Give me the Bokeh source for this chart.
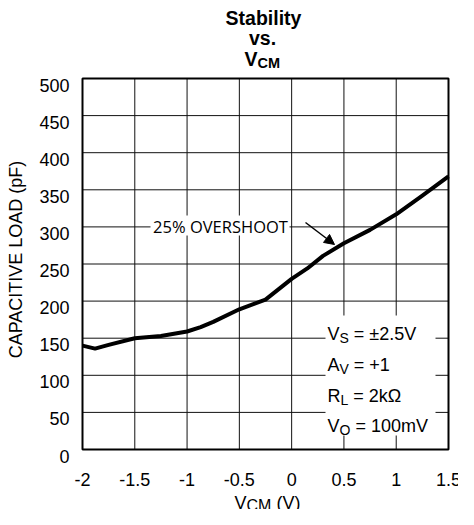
import math
from bokeh.plotting import figure
from bokeh.models import (Label, BoxAnnotation, Arrow, NormalHead, Range1d)
from bokeh.core.properties import value
from bokeh.embed import file_html
from bokeh.resources import INLINE

# ---- data ----
vcm = [-2.0, -1.88, -1.75, -1.5, -1.25, -1.0, -0.87, -0.75, -0.5, -0.25, 0.0, 0.15, 0.3, 0.5, 0.75, 1.0, 1.25, 1.5]
cap_load = [140, 136, 141, 150, 153, 159, 165, 172, 189, 202, 230, 244, 261, 278, 296, 317, 342, 368]
x_ticks = [-2, -1.5, -1, -0.5, 0, 0.5, 1, 1.5]
x_tick_labels = ["-2", "-1.5", "-1", "-0.5", "0", "0.5", "1", "1.5"]
y_ticks = [0, 50, 100, 150, 200, 250, 300, 350, 400, 450, 500]
y_tick_labels = ["0", "50", "100", "150", "200", "250", "300", "350", "400", "450", "500"]

# axis limits of the chart box
X0, X1, Y0, Y1 = -2.0, 1.5, 0.0, 500.0
WIDTH, HEIGHT = 458, 509
# where the chart box sits on the page (pixels)
FL, FR, FT, FB = 90, 456, 86, 457
CL, CR, CT, CB = 8, 8 + WIDTH, 8, 8 + HEIGHT   # canvas on the page

SX = (X1 - X0) / (FR - FL)   # data units per pixel
SY = (Y1 - Y0) / (FB - FT)

def dx(px):
    return X0 + (px - FL) * SX

def dy(py):
    return Y0 + (FB - py) * SY

FONT = "Liberation Sans"
W = {"V": .667, "A": .667, "R": .722, "S": .667, "L": .556, "O": .778, "C": .722, "M": .833}
SPACE = .278

# the frame covers the whole canvas; the chart box is X0..X1, Y0..Y1
p = figure(width=WIDTH, height=HEIGHT, output_backend="svg", toolbar_location=None,
           x_range=Range1d(dx(CL), dx(CR)), y_range=Range1d(dy(CB), dy(CT)),
           x_axis_location=None, y_axis_location=None,
           min_border=0, min_border_left=0, min_border_right=0,
           min_border_top=0, min_border_bottom=0)
p.title.visible = False
p.grid.visible = False
p.background_fill_color = "white"
p.border_fill_color = "white"
p.outline_line_color = None

# grid lines at the tick positions, spanning the chart box
p.segment(x0=x_ticks, y0=[Y0] * len(x_ticks), x1=x_ticks, y1=[Y1] * len(x_ticks),
          line_color="#111111", line_width=1)
p.segment(x0=[X0] * len(y_ticks), y0=y_ticks, x1=[X1] * len(y_ticks), y1=y_ticks,
          line_color="#111111", line_width=1)
# chart box outline
p.quad(left=[X0], right=[X1], bottom=[Y0], top=[Y1], fill_color=None,
       line_color="black", line_width=2)

# tick labels
p.text(x=[dx(77)] * len(y_ticks), y=[t - 6.5 * SY for t in y_ticks], text=y_tick_labels,
       text_font=value(FONT), text_font_size="18px", text_color="black",
       text_align="right", text_baseline="alphabetic")
p.text(x=x_ticks, y=[dy(487)] * len(x_ticks), text=x_tick_labels,
       text_font=value(FONT), text_font_size="18px", text_color="black",
       text_align="center", text_baseline="alphabetic")

# curve
p.line(vcm, cap_load, line_color="black", line_width=4, line_join="round")

# white masks behind the annotation texts
p.add_layout(BoxAnnotation(left=dx(158), right=dx(297), top=dy(223), bottom=dy(243),
                           fill_color="white", fill_alpha=1, line_color=None))
p.add_layout(BoxAnnotation(left=dx(333), right=dx(443), top=dy(323), bottom=dy(443),
                           fill_color="white", fill_alpha=1, line_color=None))


def lab(px, py, text, size, style="normal", font=FONT, align="left",
        baseline="alphabetic", angle=0.0):
    p.add_layout(Label(x=dx(px), y=dy(py), text=text, text_font=font,
                       text_font_size=f"{size}px", text_font_style=style,
                       text_color="black", text_align=align,
                       text_baseline=baseline, angle=angle))


def sub_text(px, py, main, sub, rest, size, subsize, drop=4, style="normal"):
    lab(px, py, main, size, style)
    x2 = px + W[main] * size
    lab(x2, py + drop, sub, subsize, style)
    x3 = x2 + sum(W[c] for c in sub) * subsize
    if rest:
        lab(x3 + SPACE * size, py, rest, size, style)


# title
lab(271, 25, "Stability", 19.5, "bold", align="center")
lab(270, 45, "vs.", 19.5, "bold", align="center")
sub_text(252, 66, "V", "CM", "", 19.5, 14.5, drop=4, style="bold")

# axis titles
lab(23.5, 267, "CAPACITIVE LOAD (pF)", 18, align="center", angle=math.pi / 2)
sub_text(242, 510, "V", "CM", "(V)", 18, 16, drop=3)

# conditions box
sub_text(335, 341, "V", "S", "= \u00b12.5V", 18, 14)
sub_text(335, 372, "A", "V", "= +1", 18, 14)
sub_text(335, 403, "R", "L", "= 2k\u03a9", 18, 14)
sub_text(335, 433, "V", "O", "= 100mV", 18, 14)

# overshoot annotation
p.add_layout(Label(x=dx(228), y=dy(234), text="25% OVERSHOOT", text_font="Open Sans",
                   text_font_size="16.5px", text_color="black", text_align="center",
                   text_baseline="middle"))
p.add_layout(Arrow(end=NormalHead(size=10, fill_color="black", line_color="black"),
                   x_start=dx(313), y_start=dy(230), x_end=dx(342), y_end=dy(252),
                   line_color="black", line_width=1.5))

open("out.html", "w").write(file_html(p, INLINE))
